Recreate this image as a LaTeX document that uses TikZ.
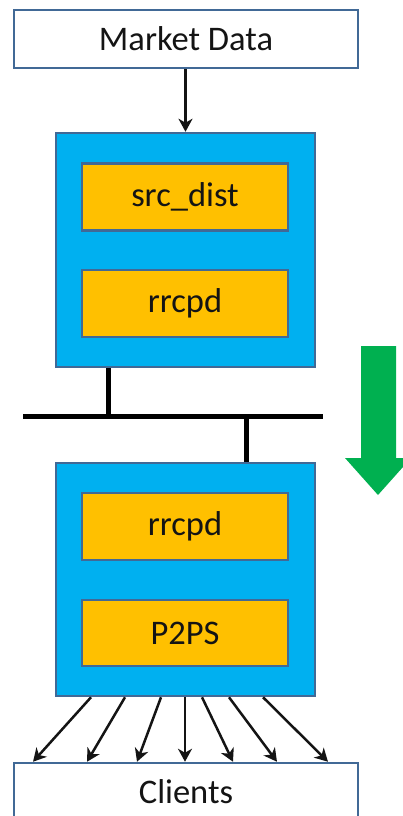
\documentclass[tikz,border=0pt]{standalone}
\usepackage{fontspec}
\setmainfont{Carlito}
\usetikzlibrary{arrows.meta}
\definecolor{outline}{RGB}{65,105,150}
\definecolor{hostblue}{RGB}{0,176,240}
\definecolor{procorange}{RGB}{255,192,0}
\definecolor{flowgreen}{RGB}{0,176,80}
\definecolor{ink}{RGB}{20,20,20}
\tikzset{
  plainbox/.style={draw=outline, line width=2.5pt, fill=white, minimum width=344pt,
    minimum height=58pt, inner sep=0pt, font=\fontsize{34.5}{38}\selectfont, text=ink},
  hostbox/.style={draw=outline, line width=2.5pt, fill=hostblue, minimum width=259pt,
    inner sep=0pt},
  procbox/.style={draw=outline, line width=2.5pt, fill=procorange, minimum width=206pt,
    minimum height=67pt, inner sep=0pt, font=\fontsize{34.5}{38}\selectfont, text=ink},
  feed/.style={draw=ink, line width=2.5pt, -{Stealth[length=13pt,width=14pt,inset=4pt]}},
  wire/.style={draw=black, line width=5pt},
}
\begin{document}
\begin{tikzpicture}[x=1pt, y=-1pt]
  \useasboundingbox (0,0) rectangle (403,816);

  % source and sink
  \node[plainbox] (md) at (186,39) {Market Data};
  \node[plainbox] (clients) at (186,792) {Clients};

  % upper host with its two processes
  \node[hostbox, minimum height=234pt] (upper) at (185.5,250) {};
  \node[procbox] (srcdist) at (185,197) {src\_dist};
  \node[procbox] (rrcpdA) at (185,303.5) {rrcpd};

  % lower host with its two processes
  \node[hostbox, minimum height=233pt] (lower) at (185.5,579.5) {};
  \node[procbox] (rrcpdB) at (185,526.5) {rrcpd};
  \node[procbox, minimum height=66pt] (p2ps) at (185,633) {P2PS};

  % feed into the upper host
  \draw[feed] (md.south -| upper.north) -- (upper.north);

  % network bus between the hosts
  \coordinate (busL) at (23,416);
  \coordinate (busR) at (323,416);
  \coordinate (tapA) at (108,416);
  \coordinate (tapB) at (246,416);
  \draw[wire] (busL) -- (busR);
  \draw[wire] (upper.south -| tapA) -- (tapA);
  \draw[wire] (tapB) -- (lower.north -| tapB);

  % fan-out to the clients
  \foreach \a/\b in {91/33,125/87,161/137,185/185,202/233,229/277,263/328}
    \draw[feed] (lower.south -| \a,0) -- (clients.north -| \b,0);

  % direction of flow
  \fill[flowgreen] (361,346) -- (396,346) -- (396,458) -- (411,458)
    -- (378,495) -- (345,458) -- (361,458) -- cycle;
\end{tikzpicture}
\end{document}
